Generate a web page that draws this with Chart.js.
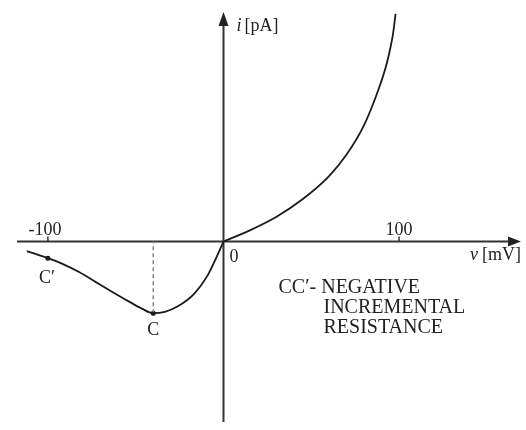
<!DOCTYPE html>
<html>
<head>
<meta charset="utf-8">
<script src="https://cdn.jsdelivr.net/npm/chart.js@4.4.1/dist/chart.umd.min.js"></script>
<style>
  body { margin: 0; background: #fff; }
  #wrap { width: 526px; height: 430px; position: relative; }
</style>
</head>
<body>
<div id="wrap"><canvas id="iv-chart"></canvas></div>
<script>
// i-v characteristic, v in mV, i in pA
const voltage = [-112, -100, -91.4, -82, -72.7, -63.3, -54, -46.5, -40, -33.4, -26, -16.6, -9.1, -4.4, 0,
                 15, 30, 45, 60, 70, 80, 88, 93, 96.5, 98];
const current = [-4.9, -8.5, -11.5, -15.7, -20.7, -25.7, -30.5, -34.2, -36.5, -35.8, -33, -26.5, -17.4, -8.8, 0,
                 5.7, 12.5, 21.5, 33.2, 44.2, 59.2, 76.8, 90.8, 105.5, 116];

// marked points on the curve
const markLabels = ["C\u2032", "C"];
const markVoltage = [-100, -40];
const markCurrent = [-8.5, -36.5];

// voltage axis ticks
const tickValues = [-100, 100];
const tickLabels = ["-100", "100"];

const noteLines = ["CC\u2032- NEGATIVE", "INCREMENTAL", "RESISTANCE"];

const serif = '"Liberation Serif", "Times New Roman", serif';
const ink = "#222";

// the curve has a corner at the origin, so draw it as two smooth pieces
const points = voltage.map((v, k) => ({ x: v, y: current[k] }));
const split = voltage.indexOf(0);
const leftBranch = points.slice(0, split + 1);
const rightBranch = points.slice(split);
const marks = markVoltage.map((v, k) => ({ x: v, y: markCurrent[k] }));
const drop = [{ x: markVoltage[1], y: markCurrent[1] }, { x: markVoltage[1], y: 0 }];

function arrowHead(ctx, x, y, dx, dy, len, half) {
  // tip at (x, y), pointing along (dx, dy)
  ctx.beginPath();
  ctx.moveTo(x, y);
  ctx.lineTo(x - dx * len - dy * half, y - dy * len + dx * half);
  ctx.lineTo(x - dx * len + dy * half, y - dy * len - dx * half);
  ctx.closePath();
  ctx.fill();
}

const axesPlugin = {
  id: "ivAxes",
  beforeDatasetsDraw(chart) {
    const { ctx, chartArea: a, scales: { x, y } } = chart;
    const x0 = x.getPixelForValue(0);
    const y0 = y.getPixelForValue(0);
    ctx.save();
    ctx.strokeStyle = "#333";
    ctx.fillStyle = "#222";
    ctx.lineWidth = 2;

    // voltage axis
    ctx.beginPath();
    ctx.moveTo(a.left + 13, y0);
    ctx.lineTo(a.right - 8, y0);
    ctx.stroke();
    arrowHead(ctx, a.right - 1, y0, 1, 0, 13, 5);

    // current axis
    ctx.beginPath();
    ctx.moveTo(x0, a.bottom - 4);
    ctx.lineTo(x0, a.top + 18);
    ctx.stroke();
    arrowHead(ctx, x0, a.top + 8, 0, -1, 14, 5);

    // ticks and their labels above the axis
    ctx.lineWidth = 1.5;
    ctx.font = "18px " + serif;
    ctx.fillStyle = ink;
    ctx.textAlign = "center";
    ctx.textBaseline = "alphabetic";
    tickValues.forEach((t, k) => {
      const px = x.getPixelForValue(t);
      ctx.beginPath();
      ctx.moveTo(px, y0);
      ctx.lineTo(px, y0 - 5);
      ctx.stroke();
      ctx.fillText(tickLabels[k], px - (t < 0 ? 3 : 0), y0 - 6);
    });

    ctx.textAlign = "left";
    ctx.fillText("0", x0 + 6, y0 + 21);

    // axis titles
    ctx.font = "italic 18px " + serif;
    ctx.fillText("i", x0 + 13, a.top + 27);
    ctx.font = "18px " + serif;
    ctx.fillText("[pA]", x0 + 21, a.top + 27);

    ctx.textAlign = "right";
    ctx.fillText("[mV]", a.right - 1, y0 + 19);
    const w = ctx.measureText("[mV]").width;
    ctx.font = "italic 18px " + serif;
    ctx.fillText("v", a.right - 1 - w - 4, y0 + 19);

    // point labels
    ctx.font = "18px " + serif;
    ctx.textAlign = "center";
    ctx.fillText(markLabels[0], x.getPixelForValue(markVoltage[0]) - 1, y.getPixelForValue(markCurrent[0]) + 25);
    ctx.fillText(markLabels[1], x.getPixelForValue(markVoltage[1]), y.getPixelForValue(markCurrent[1]) + 22);

    // note
    ctx.font = "20px " + serif;
    ctx.textAlign = "left";
    ctx.fillText(noteLines[0], x0 + 55, y0 + 52);
    ctx.fillText(noteLines[1], x0 + 100, y0 + 72);
    ctx.fillText(noteLines[2], x0 + 100, y0 + 92);
    ctx.restore();
  }
};

const curveStyle = {
  borderColor: "#1a1a1a",
  borderWidth: 1.8,
  pointRadius: 0,
  cubicInterpolationMode: "monotone",
  fill: false
};

new Chart(document.getElementById("iv-chart"), {
  type: "line",
  data: {
    datasets: [
      Object.assign({ data: leftBranch }, curveStyle),
      Object.assign({ data: rightBranch }, curveStyle),
      {
        data: drop,
        borderColor: "#888",
        borderWidth: 1.5,
        borderDash: [4, 3],
        pointRadius: 0,
        fill: false
      },
      {
        data: marks,
        showLine: false,
        pointRadius: 2.5,
        pointBackgroundColor: "#111",
        pointBorderWidth: 0
      }
    ]
  },
  options: {
    responsive: true,
    maintainAspectRatio: false,
    animation: false,
    layout: { padding: 0 },
    plugins: { legend: { display: false }, tooltip: { enabled: false } },
    scales: {
      x: { type: "linear", min: -125, max: 170, display: false },
      y: { type: "linear", min: -94, max: 121, display: false }
    }
  },
  plugins: [axesPlugin]
});
</script>
</body>
</html>
